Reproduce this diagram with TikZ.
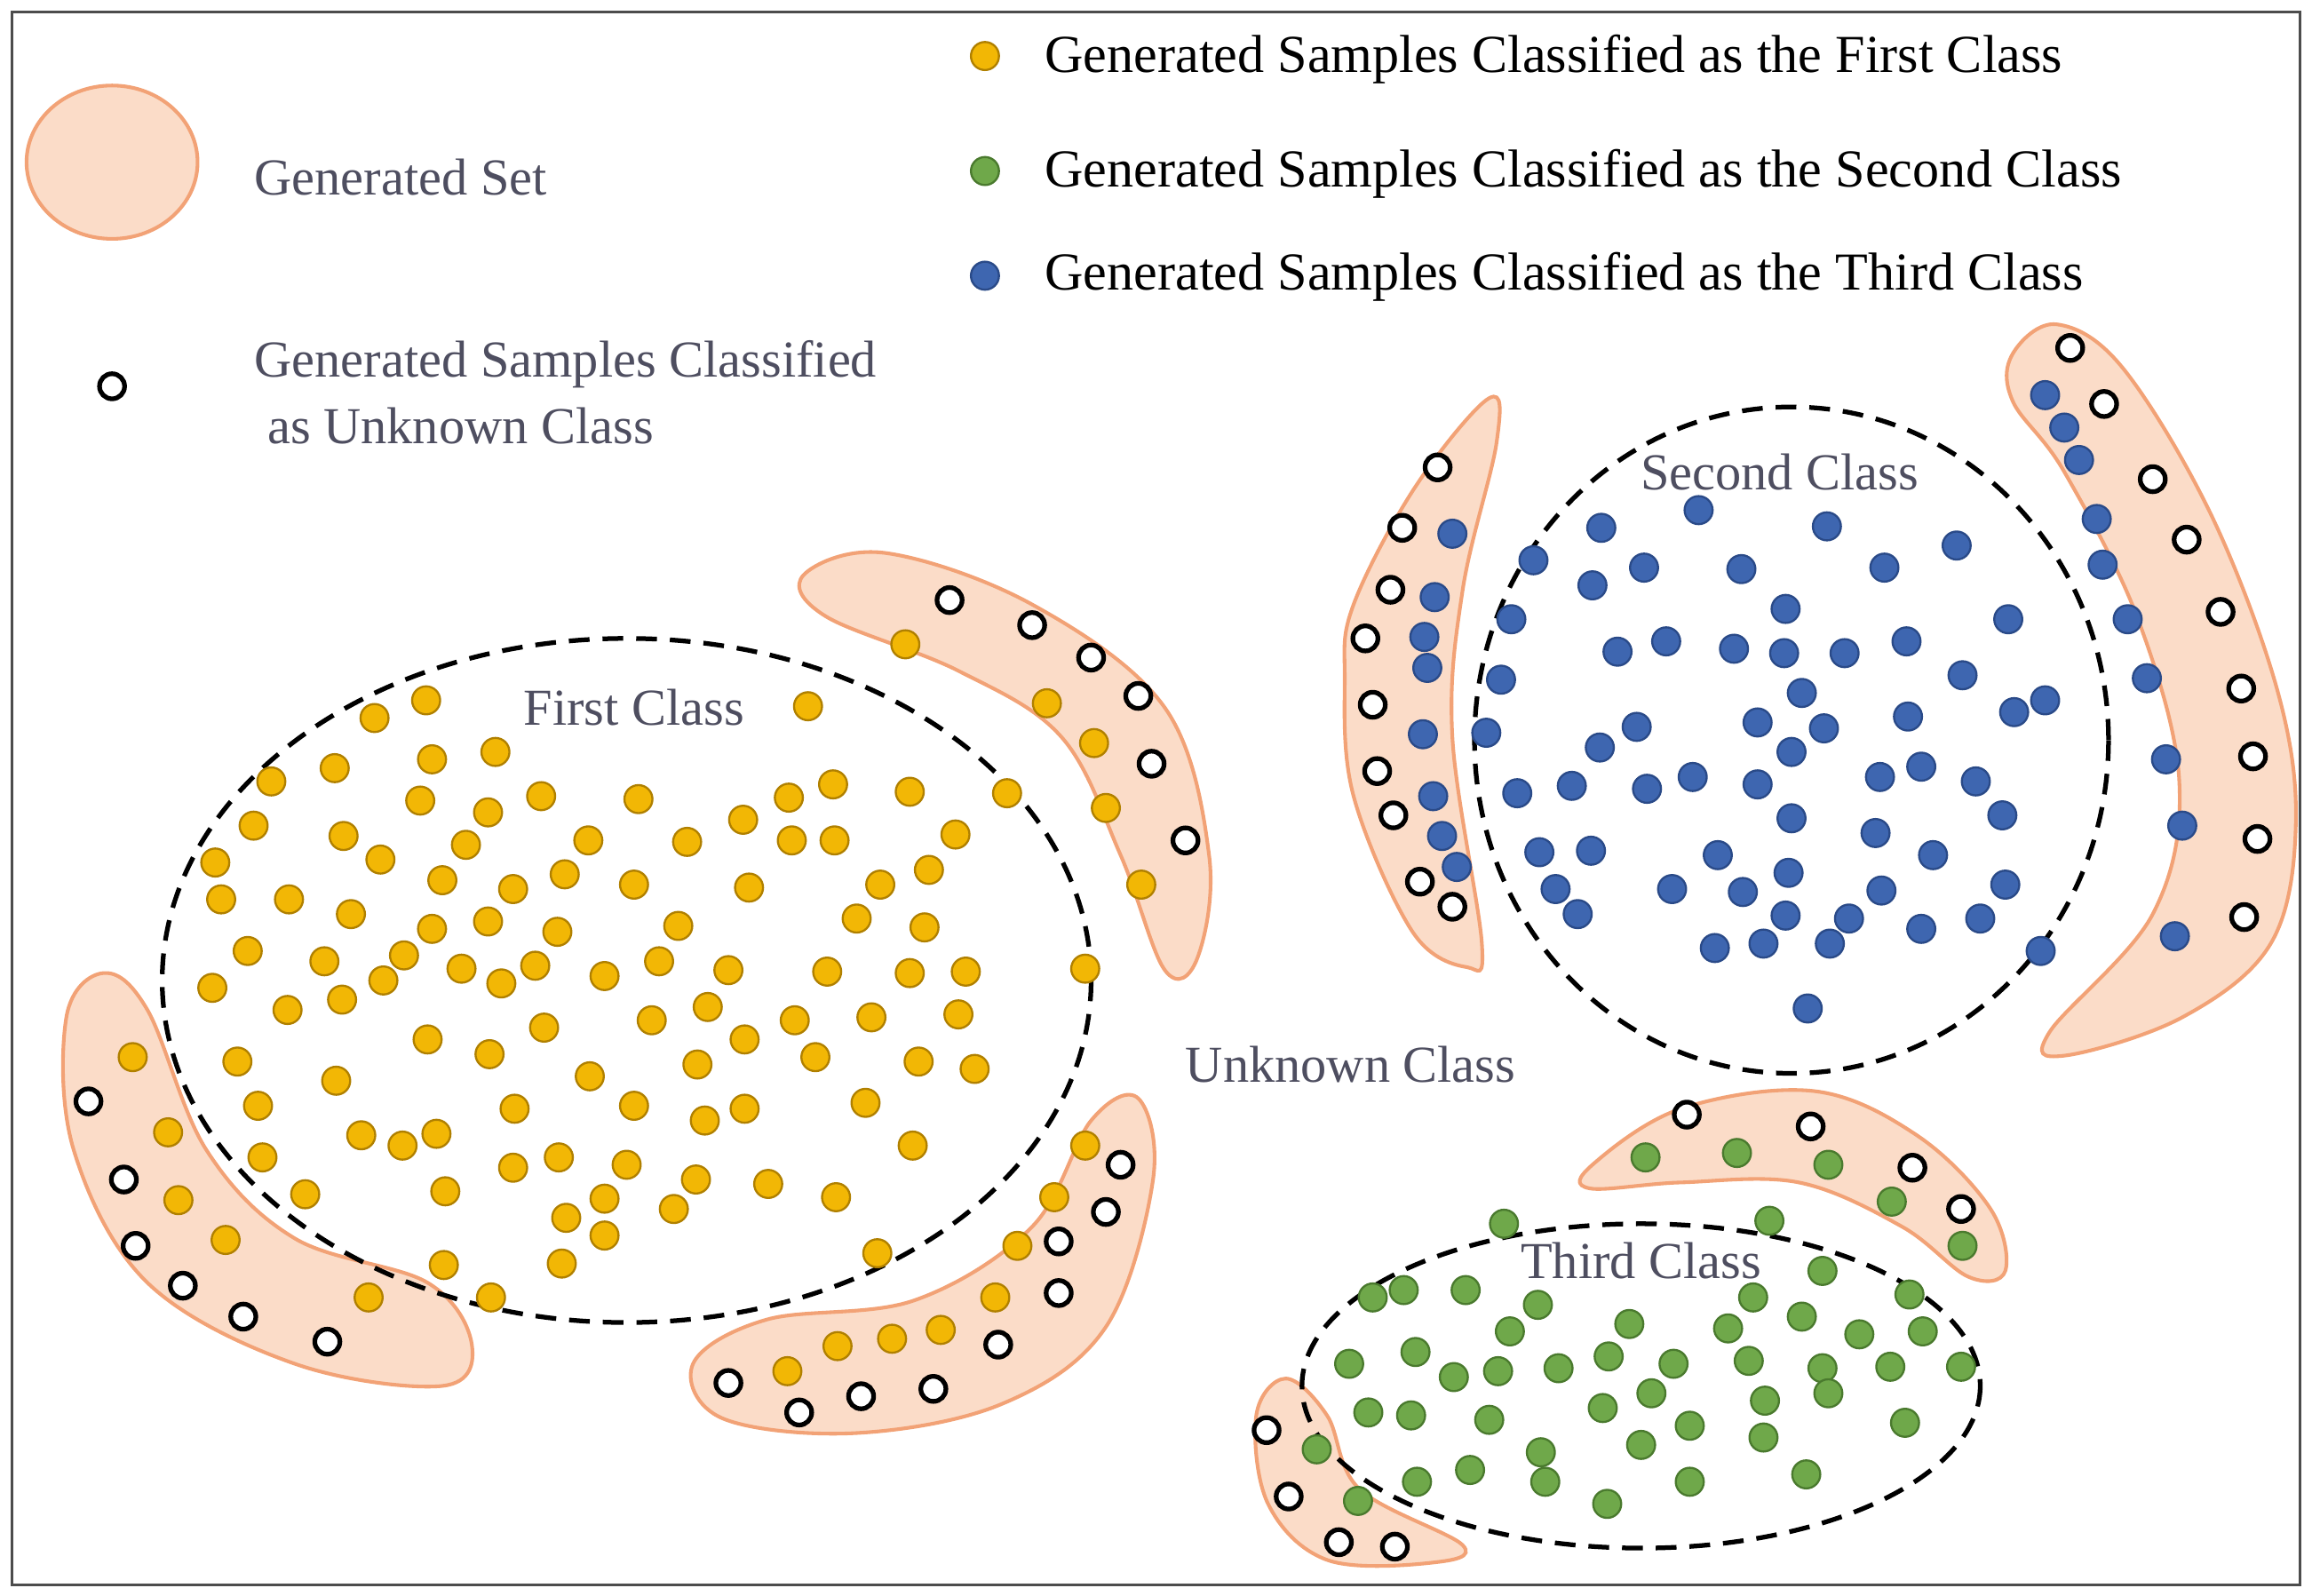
\documentclass[tikz,border=0pt]{standalone}
\usepackage{fontspec}
\setmainfont{Liberation Serif}
\definecolor{yfill}{HTML}{F2B705}\definecolor{ydraw}{HTML}{B08000}
\definecolor{gfill}{HTML}{6FA84A}\definecolor{gdraw}{HTML}{4A7A2E}
\definecolor{bfill}{HTML}{3E66B0}\definecolor{bdraw}{HTML}{2A4A88}
\definecolor{lbl}{HTML}{4E4E60}
\definecolor{bfl}{HTML}{FBDCC8}\definecolor{bdr}{HTML}{F2A276}
\begin{document}
\begin{tikzpicture}[x=0.01cm,y=-0.01cm,
  blob/.style={fill=bfl,draw=bdr,line width=0.7pt},
  dashell/.style={dashed,line width=0.9pt,dash pattern=on 4pt off 2.5pt},
  yd/.style={circle,fill=yfill,draw=ydraw,line width=0.4pt,minimum size=0.19cm,inner sep=0pt},
  gd/.style={circle,fill=gfill,draw=gdraw,line width=0.4pt,minimum size=0.19cm,inner sep=0pt},
  bd/.style={circle,fill=bfill,draw=bdraw,line width=0.4pt,minimum size=0.19cm,inner sep=0pt},
  rd/.style={circle,fill=white,draw=black,line width=0.9pt,minimum size=0.17cm,inner sep=0pt},
  lg/.style={font=\fontsize{10.3}{12}\selectfont,anchor=west,inner sep=0pt},
  gl/.style={font=\fontsize{10}{12}\selectfont,text=lbl,inner sep=0pt}]
\useasboundingbox (0,0) rectangle (1568,1082);
\fill[white] (0,0) rectangle (1568,1082);
\draw[line width=0.5pt,black!70] (8,8) rectangle (1560,1075);
% legend
\draw[blob] (76,110) ellipse (58 and 52);
\node[gl,anchor=west] (lgs) at (172,120) {Generated Set};
\node[rd] (lr) at (76,262) {};
\node[gl,anchor=north west,align=left] (lgu) at (172,230) {Generated Samples Classified\\[1pt]\ as Unknown Class};
\node[yd] (ly) at (668,38) {}; \node[lg] (lty) at (708,40) {Generated Samples Classified as the First Class};
\node[gd] (lgd) at (668,116) {}; \node[lg] (ltg) at (708,118) {Generated Samples Classified as the Second Class};
\node[bd] (lb) at (668,187) {}; \node[lg] (ltb) at (708,188) {Generated Samples Classified as the Third Class};
% blobs
\draw[blob] plot[smooth cycle,tension=0.6] coordinates {(545,390)(600,375)(700,410)(790,480)(820,580)(812,650)(790,658)(760,580)(720,500)(650,455)(560,418)};
\draw[blob] plot[smooth cycle,tension=0.6] coordinates {(45,690)(70,660)(100,685)(140,780)(200,840)(290,870)(320,912)(300,940)(200,925)(100,870)(50,780)};
\draw[blob] plot[smooth cycle,tension=0.6] coordinates {(470,925)(520,895)(620,882)(700,832)(740,760)(772,745)(782,800)(750,900)(680,952)(580,972)(490,962)};
\draw[blob] plot[smooth cycle,tension=0.6] coordinates {(918,410)(960,330)(1010,270)(1015,300)(992,400)(985,500)(1005,640)(995,656)(958,632)(918,540)(912,460)};
\draw[blob] plot[smooth cycle,tension=0.6] coordinates {(1365,240)(1395,220)(1440,250)(1500,350)(1545,470)(1557,560)(1540,640)(1480,690)(1400,716)(1390,700)(1460,620)(1478,530)(1450,420)(1400,320)(1365,272)};
\draw[blob] plot[smooth cycle,tension=0.6] coordinates {(1080,790)(1140,752)(1230,740)(1300,770)(1350,820)(1360,862)(1335,866)(1290,832)(1220,802)(1140,802)(1078,806)};
\draw[blob] plot[smooth cycle,tension=0.6] coordinates {(852,960)(872,935)(900,960)(922,1010)(992,1048)(970,1060)(900,1058)(860,1020)};
% dashed class regions
\draw[dashell] (425,665) ellipse (315 and 232);
\draw[dashell] (1215,502) ellipse (215 and 226);
\draw[dashell] (1113,940) ellipse (230 and 110);
\node[gl] (fc) at (430,480) {First Class};
\node[gl] (sc) at (1207,320) {Second Class};
\node[gl] (tc) at (1113,855) {Third Class};
\node[gl] (uc) at (916,722) {Unknown Class};
% yellow
\foreach \p in {(614,437),(710,477),(742,504),(750,548),(774,600),(548,479),(683,538),(736,657),
(90,717),(114,768),(121,814),(153,841),(250,880),
(534,930),(568,913),(605,908),(638,902),(675,880),(690,845),(715,812),(736,777),
(254,487),(289,475),(227,521),(293,515),(336,510),(184,530),(172,560),(146,585),(233,567),(258,583),(285,543),(331,551),(367,540),(316,573),(300,597),(348,603),(383,593),(150,610),(196,610),(238,620),(293,630),(331,625),(378,632),(168,645),(220,652),(274,648),(313,657),(340,667),(363,655),(144,670),(195,685),(232,678),(260,665),(410,662),(442,692),(399,570),(433,542),(466,571),(504,556),(535,541),(565,532),(617,537),(537,570),(566,570),(648,566),(630,590),(597,600),(581,623),(627,629),(508,602),(460,628),(430,600),(447,652),(494,658),(480,683),(539,692),(561,659),(591,690),(617,660),(655,659),(650,688),(161,720),(175,750),(228,733),(290,705),(332,715),(369,697),(400,730),(473,722),(505,705),(553,717),(623,720),(661,725),(178,785),(207,810),(245,770),(273,777),(296,769),(302,808),(349,752),(348,792),(379,785),(425,790),(430,750),(478,760),(505,752),(587,748),(619,777),(472,800),(457,820),(410,813),(384,826),(410,838),(521,803),(567,812),(595,850),(301,858),(333,880),(381,857)}
  \node[yd] at \p {};
% blue
\foreach \p in {(1152,346),(1086,358),(1239,357),(1278,385),(1327,370),(1040,380),(1080,397),(1115,385),(1181,386),(1211,413),(1025,420),(1097,442),(1130,435),(1176,440),(1210,443),(1251,443),(1293,435),(1362,420),(1018,461),(1222,470),(1192,490),(1237,494),(1294,486),(1331,458),(1366,483),(1387,475),(1008,497),(1110,493),(1085,507),(1215,510),(1029,538),(1066,533),(1117,535),(1148,527),(1192,532),(1275,527),(1303,520),(1340,530),(1358,553),(1215,555),(1272,565),(1044,578),(1079,577),(1165,580),(1213,592),(1311,580),(1055,603),(1070,620),(1134,603),(1182,605),(1276,604),(1360,600),(1211,621),(1254,623),(1303,630),(1343,623),(1163,643),(1196,640),(1241,640),(1384,645),(1226,684),
(985,362),(973,405),(966,432),(968,453),(965,498),(972,540),(978,567),(988,588),
(1387,268),(1400,290),(1410,312),(1422,352),(1426,383),(1443,420),(1456,460),(1469,515),(1480,560),(1475,635)}
  \node[bd] at \p {};
% green
\foreach \p in {(1116,785),(1178,782),(1240,790),(1283,815),(1331,845),(1200,828),
(1020,830),(1236,862),(1295,878),(931,880),(952,875),(994,875),(1189,880),(1043,885),(1105,898),(1172,901),(1222,893),(1261,905),(1304,903),(915,925),(960,917),(1024,903),(986,934),(1016,930),(1057,928),(1091,920),(1135,925),(1186,923),(1236,928),(1282,927),(1330,927),(928,958),(957,960),(1010,963),(1087,955),(1120,945),(1197,950),(1240,945),(1292,965),(1045,985),(1113,980),(1146,967),(1196,975),(997,997),(1048,1005),(1090,1020),(1146,1005),(1225,1000),(961,1005),
(893,983),(921,1018)}
  \node[gd] at \p {};
% unknown rings
\foreach \p in {(644,407),(700,424),(740,446),(772,472),(781,518),(804,570),
(60,747),(84,800),(92,845),(124,872),(165,893),(222,910),
(494,938),(542,958),(584,947),(633,942),(677,912),(718,877),(718,842),(750,822),(760,790),
(975,317),(951,358),(943,400),(926,433),(931,478),(934,523),(945,553),(963,598),(985,615),
(1404,236),(1427,274),(1460,325),(1483,366),(1506,415),(1520,467),(1528,513),(1531,569),(1522,622),
(1144,756),(1228,764),(1297,792),(1330,820),
(859,970),(874,1015),(908,1046),(946,1049)}
  \node[rd] at \p {};
\end{tikzpicture}
\end{document}
